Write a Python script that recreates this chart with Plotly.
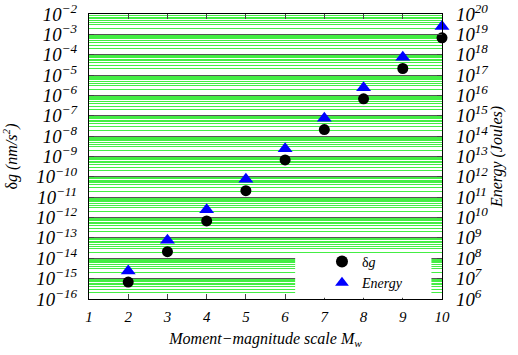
import plotly.graph_objects as go

mw = [2, 3, 4, 5, 6, 7, 8, 9, 10]
delta_g = [6.8e-16, 2.1e-14, 6.8e-13, 2.1e-11, 6.8e-10, 2.1e-8, 6.8e-7, 2.1e-5, 6.8e-4]
energy = [2.4e7, 7.6e8, 2.4e10, 7.6e11, 2.4e13, 7.6e14, 2.4e16, 7.6e17, 2.4e19]
x_ticks = [1, 2, 3, 4, 5, 6, 7, 8, 9, 10]

FONT = "Liberation Serif, Times New Roman, serif"
tickfont = dict(family=FONT, size=15, color="black", style="italic")

fig = go.Figure()
fig.add_trace(go.Scatter(x=mw, y=delta_g, mode="markers", name="δ<i>g</i>", cliponaxis=False,
                         marker=dict(symbol="circle", size=11, color="black"), yaxis="y"))
fig.add_trace(go.Scatter(x=mw, y=energy, mode="markers", name="<i>Energy</i>", cliponaxis=False,
                         marker=dict(symbol="triangle-up", size=13, color="#0000ff"), yaxis="y2"))

fig.add_shape(type="rect", xref="paper", yref="paper", x0=0.584, x1=0.97, y0=0.004, y1=0.144,
              fillcolor="white", line=dict(width=0), layer="above")

fig.update_layout(
    width=518, height=355,
    margin=dict(l=89, r=76, t=14, b=56, autoexpand=False),
    paper_bgcolor="white", plot_bgcolor="white",
    showlegend=True,
    legend=dict(x=0.66, y=0.0, xanchor="left", yanchor="bottom", bgcolor="rgba(0,0,0,0)",
                font=dict(family=FONT, size=14, color="black"), tracegroupgap=0, itemwidth=30,
                itemsizing="constant"),
    xaxis=dict(range=[1, 10], tickvals=x_ticks, ticks="inside", ticklen=5, mirror="ticks",
               showline=True, linecolor="black", linewidth=1, showgrid=False, zeroline=False,
               tickfont=tickfont, ticklabelstandoff=4, automargin=False,
               title=dict(text="<i>Moment−magnitude scale M<sub>w</sub></i>",
                          font=dict(family=FONT, size=16, color="black"), standoff=8)),
    yaxis=dict(type="log", range=[-16, -2], dtick=1, exponentformat="power", ticks="inside", ticklen=5,
               showline=True, linecolor="black", linewidth=1, showgrid=True, gridcolor="#555555", gridwidth=1,
               minor=dict(dtick="D1", showgrid=True, gridcolor="#44ee44", gridwidth=1, ticks=""),
               tickfont=tickfont, zeroline=False, ticklabelstandoff=8, automargin=False,
               ticklabeloverflow="allow",
               title=dict(text="δ<i>g (nm/s<sup>2</sup>)</i>",
                          font=dict(family=FONT, size=16, color="black"), standoff=16)),
    yaxis2=dict(type="log", range=[6, 20], dtick=1, exponentformat="power", overlaying="y", side="right",
                ticks="inside", ticklen=5, showline=True, linecolor="black", linewidth=1, showgrid=False,
                tickfont=tickfont, zeroline=False, ticklabelstandoff=10, automargin=False,
                ticklabeloverflow="allow",
                title=dict(text="<i>Energy (Joules)</i>",
                           font=dict(family=FONT, size=16, color="black"), standoff=2)),
)

fig.write_html("out.html", post_script="document.body.style.margin='0';",
               config={"displayModeBar": False})
